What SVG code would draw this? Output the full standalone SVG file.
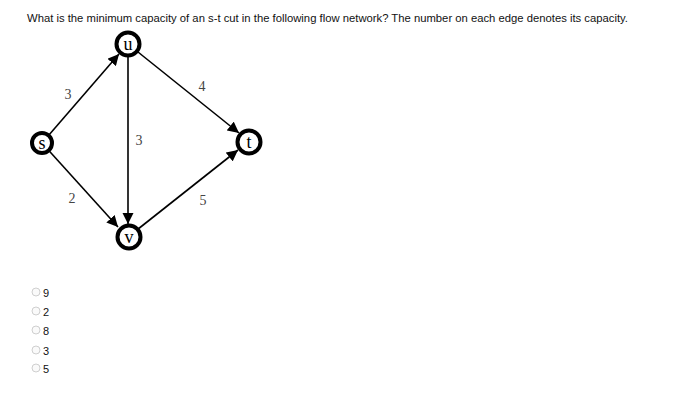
<svg xmlns="http://www.w3.org/2000/svg" width="700" height="409" viewBox="0 0 700 409">
<style>
.title{font-family:"Liberation Sans",Arial,sans-serif;font-size:11.4px;fill:#111}
.node circle{fill:#fff;stroke:#000;stroke-width:4}
.node text{font-family:"Liberation Serif","DejaVu Serif",serif;font-size:18px;fill:#000;text-anchor:middle}
.edge{stroke:#000;stroke-width:1.6;fill:none;marker-end:url(#ah)}
.lbl{font-family:"Liberation Serif","DejaVu Serif",serif;font-size:14px;fill:#444;text-anchor:middle}
.opt circle{fill:#fafafa;stroke:#cfcfcf;stroke-width:1}
.opt text{font-family:"Liberation Sans",Arial,sans-serif;font-size:11px;fill:#111}
</style>
<defs>
<marker id="ah" viewBox="0 0 10 10" refX="10" refY="5" markerWidth="7" markerHeight="7" markerUnits="strokeWidth" orient="auto">
<path d="M0,0 L10,5 L0,10 z" fill="#000"/>
</marker>
</defs>
<rect width="700" height="409" fill="#fff"/>
<text class="title" x="27" y="22" textLength="601" lengthAdjust="spacingAndGlyphs">What is the minimum capacity of an s-t cut in the following flow network? The number on each edge denotes its capacity.</text>
<g id="connectors">
<line class="edge" x1="42" y1="143" x2="119" y2="54"/>
<line class="edge" x1="128" y1="44" x2="239" y2="133"/>
<line class="edge" x1="128" y1="44" x2="128" y2="224"/>
<line class="edge" x1="42" y1="143" x2="118" y2="227"/>
<line class="edge" x1="128" y1="237" x2="238" y2="150"/>
<text class="lbl" x="68" y="99">3</text>
<text class="lbl" x="202" y="91">4</text>
<text class="lbl" x="139" y="145">3</text>
<text class="lbl" x="72" y="203">2</text>
<text class="lbl" x="203" y="205">5</text>
</g>
<g id="node-u" class="node"><circle cx="128" cy="44" r="11.5"/><text x="128" y="50">u</text></g>
<g id="node-s" class="node"><circle cx="42" cy="143" r="10"/><text x="42" y="149">s</text></g>
<g id="node-t" class="node"><circle cx="249" cy="142" r="11.5"/><text x="249" y="148">t</text></g>
<g id="node-v" class="node"><circle cx="129" cy="237" r="11.5"/><text x="129" y="243">v</text></g>
<g id="options" class="opt">
<circle cx="36" cy="292" r="4"/><text x="43" y="297">9</text>
<circle cx="36" cy="311" r="4"/><text x="43" y="316">2</text>
<circle cx="36" cy="330" r="4"/><text x="43" y="335">8</text>
<circle cx="36" cy="350" r="4"/><text x="43" y="355">3</text>
<circle cx="36" cy="368" r="4"/><text x="43" y="373">5</text>
</g>
</svg>
